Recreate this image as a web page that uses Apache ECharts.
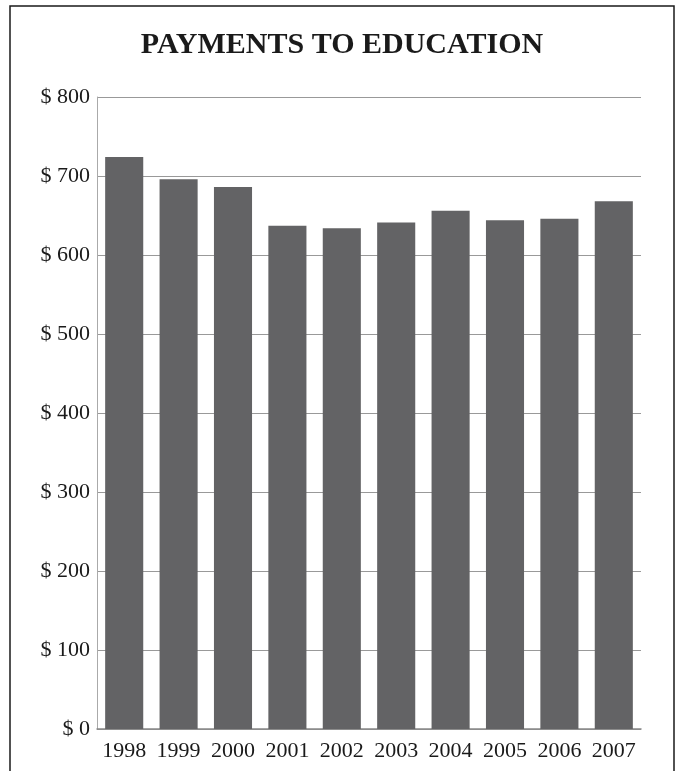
<!DOCTYPE html>
<html><head><meta charset="utf-8">
<script src="https://cdn.jsdelivr.net/npm/echarts@6/dist/echarts.min.js"></script>
<style>html,body{margin:0;padding:0;background:#fff}#c{width:684px;height:771px}</style>
</head><body><div id="c"></div>
<script>
const titleText = 'PAYMENTS TO EDUCATION';
const years = ['1998','1999','2000','2001','2002','2003','2004','2005','2006','2007'];
const payments = [724, 696, 686, 637, 634, 641, 656, 644, 646, 668];
const yTicks = [0, 100, 200, 300, 400, 500, 600, 700, 800];

const chart = echarts.init(document.getElementById('c'), null, {renderer:'canvas'});
const serif = '"Liberation Serif", "Times New Roman", serif';
chart.setOption({
  animation: false,
  backgroundColor: '#fff',
  title: {
    text: titleText, left: 'center', top: 25,
    textStyle: {fontFamily: serif, fontWeight: 'bold', fontSize: 30, color: '#1a1a1a'}
  },
  graphic: [{
    type: 'rect', shape: {x: 10, y: 6, width: 664, height: 800},
    style: {fill: 'none', stroke: '#1a1a1a', lineWidth: 1.5}, silent: true
  }],
  grid: {left: 97, right: 43, top: 97, bottom: 42},
  xAxis: {
    type: 'category', data: years,
    axisTick: {show: false},
    axisLine: {lineStyle: {color: '#888', width: 1.5}},
    axisLabel: {interval: 0, fontFamily: serif, fontSize: 22, color: '#1a1a1a', margin: 11}
  },
  yAxis: {
    type: 'value', min: yTicks[0], max: yTicks[yTicks.length-1], interval: 100,
    axisLine: {show: true, lineStyle: {color: '#aaa', width: 1}},
    axisTick: {show: false},
    splitLine: {lineStyle: {color: '#999', width: 1.2}},
    axisLabel: {fontFamily: serif, fontSize: 22, color: '#1a1a1a', margin: 7,
      formatter: v => '$ ' + v}
  },
  series: [{
    type: 'bar', data: payments, barCategoryGap: '30%',
    itemStyle: {color: '#636365'}
  }]
});
</script></body></html>
